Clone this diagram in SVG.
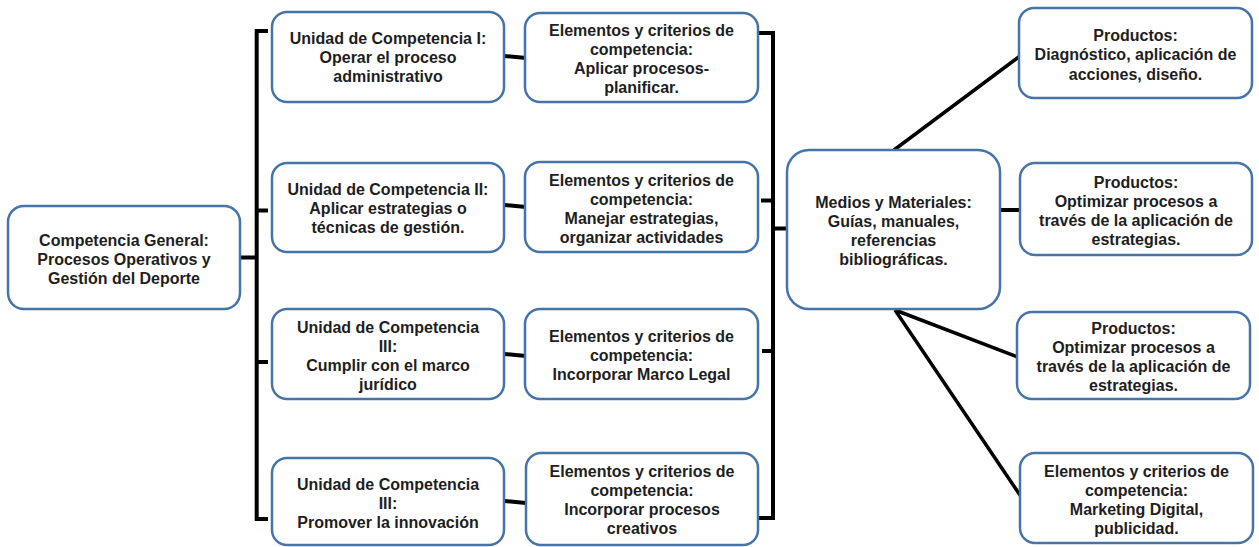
<svg xmlns="http://www.w3.org/2000/svg" width="1259" height="547" viewBox="0 0 1259 547">
<style>
.box{fill:#fff;stroke:#4674a8;stroke-width:2.5}
.lbl{font-family:"Liberation Sans",Arial,sans-serif;font-size:16px;font-weight:bold;fill:#1e1e1e;text-anchor:middle}
.con{stroke:#000;stroke-width:4;fill:none;stroke-linecap:butt}
.dia{stroke:#000;stroke-width:3.5;fill:none}
</style>
<rect width="1259" height="547" fill="#fff"/>
<g id="connectors">
<path class="con" d="M268 31H256.7V519H268"/>
<path class="con" d="M256.7 210.5H268M256.7 362H268M237 257.5H256.7"/>
<path class="con" d="M504 56L526 58M504 205L526 207M504 354L526 356M504 501L526 503"/>
<path class="con" d="M758 33H773V518H758"/>
<path class="con" d="M761 200.5H773M762 351H773M773 228.5H788"/>
<path class="con" d="M1000 210H1020"/>
<path class="dia" d="M894 150L1020 56M895 310L1018 357M895 310L1022 498"/>
</g>
<g id="n-general">
<rect class="box" x="8" y="206" width="232" height="103" rx="16"/>
<text class="lbl" x="124" y="245.5"><tspan x="124">Competencia General:</tspan><tspan x="124" dy="19">Procesos Operativos y</tspan><tspan x="124" dy="19">Gestión del Deporte</tspan></text>
</g>
<g id="n-u1">
<rect class="box" x="272" y="12" width="232" height="90" rx="15"/>
<text class="lbl" x="388" y="43.5"><tspan x="388">Unidad de Competencia I:</tspan><tspan x="388" dy="19">Operar el proceso</tspan><tspan x="388" dy="19">administrativo</tspan></text>
</g>
<g id="n-u2">
<rect class="box" x="272" y="163" width="232" height="89" rx="15"/>
<text class="lbl" x="388" y="194.5"><tspan x="388">Unidad de Competencia II:</tspan><tspan x="388" dy="19">Aplicar estrategias o</tspan><tspan x="388" dy="19">técnicas de gestión.</tspan></text>
</g>
<g id="n-u3">
<rect class="box" x="272" y="309" width="232" height="90" rx="15"/>
<text class="lbl" x="388" y="332.5"><tspan x="388">Unidad de Competencia</tspan><tspan x="388" dy="19">III:</tspan><tspan x="388" dy="19">Cumplir con el marco</tspan><tspan x="388" dy="19">jurídico</tspan></text>
</g>
<g id="n-u4">
<rect class="box" x="272" y="458" width="232" height="87" rx="15"/>
<text class="lbl" x="388" y="489.5"><tspan x="388">Unidad de Competencia</tspan><tspan x="388" dy="19">III:</tspan><tspan x="388" dy="19">Promover la innovación</tspan></text>
</g>
<g id="n-e1">
<rect class="box" x="525" y="13" width="233" height="89" rx="15"/>
<text class="lbl" x="641.5" y="35.5"><tspan x="641.5">Elementos y criterios de</tspan><tspan x="641.5" dy="19">competencia:</tspan><tspan x="641.5" dy="19">Aplicar procesos-</tspan><tspan x="641.5" dy="19">planificar.</tspan></text>
</g>
<g id="n-e2">
<rect class="box" x="525" y="162" width="233" height="90" rx="15"/>
<text class="lbl" x="641.5" y="185.5"><tspan x="641.5">Elementos y criterios de</tspan><tspan x="641.5" dy="19">competencia:</tspan><tspan x="641.5" dy="19">Manejar estrategias,</tspan><tspan x="641.5" dy="19">organizar actividades</tspan></text>
</g>
<g id="n-e3">
<rect class="box" x="525" y="309" width="233" height="90" rx="15"/>
<text class="lbl" x="641.5" y="341.5"><tspan x="641.5">Elementos y criterios de</tspan><tspan x="641.5" dy="19">competencia:</tspan><tspan x="641.5" dy="19">Incorporar Marco Legal</tspan></text>
</g>
<g id="n-e4">
<rect class="box" x="526" y="453" width="232" height="92" rx="15"/>
<text class="lbl" x="642" y="476.5"><tspan x="642">Elementos y criterios de</tspan><tspan x="642" dy="19">competencia:</tspan><tspan x="642" dy="19">Incorporar procesos</tspan><tspan x="642" dy="19">creativos</tspan></text>
</g>
<g id="n-medios">
<rect class="box" x="787" y="150" width="213" height="159" rx="22"/>
<text class="lbl" x="893.5" y="207.5"><tspan x="893.5">Medios y Materiales:</tspan><tspan x="893.5" dy="19">Guías, manuales,</tspan><tspan x="893.5" dy="19">referencias</tspan><tspan x="893.5" dy="19">bibliográficas.</tspan></text>
</g>
<g id="n-p1">
<rect class="box" x="1019" y="8" width="233" height="90" rx="15"/>
<text class="lbl" x="1135.5" y="40.5"><tspan x="1135.5">Productos:</tspan><tspan x="1135.5" dy="19.5">Diagnóstico, aplicación de</tspan><tspan x="1135.5" dy="19.5">acciones, diseño.</tspan></text>
</g>
<g id="n-p2">
<rect class="box" x="1020" y="163" width="232" height="92" rx="15"/>
<text class="lbl" x="1136" y="187.5"><tspan x="1136">Productos:</tspan><tspan x="1136" dy="19">Optimizar procesos a</tspan><tspan x="1136" dy="19">través de la aplicación de</tspan><tspan x="1136" dy="19">estrategias.</tspan></text>
</g>
<g id="n-p3">
<rect class="box" x="1017" y="312" width="233" height="87" rx="15"/>
<text class="lbl" x="1133.5" y="333.5"><tspan x="1133.5">Productos:</tspan><tspan x="1133.5" dy="19">Optimizar procesos a</tspan><tspan x="1133.5" dy="19">través de la aplicación de</tspan><tspan x="1133.5" dy="19">estrategias.</tspan></text>
</g>
<g id="n-p4">
<rect class="box" x="1020" y="453" width="233" height="90" rx="15"/>
<text class="lbl" x="1136.5" y="476.5"><tspan x="1136.5">Elementos y criterios de</tspan><tspan x="1136.5" dy="19">competencia:</tspan><tspan x="1136.5" dy="19">Marketing Digital,</tspan><tspan x="1136.5" dy="19">publicidad.</tspan></text>
</g>
</svg>
